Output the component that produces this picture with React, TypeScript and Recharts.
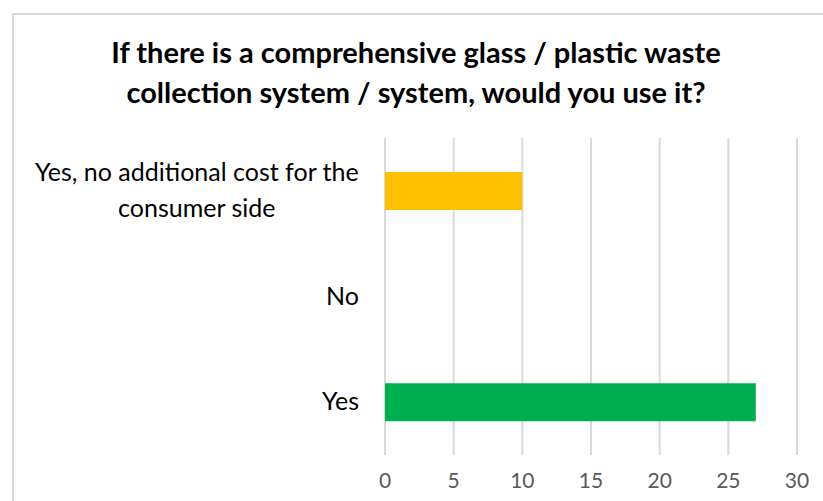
import { Bar, BarChart, CartesianGrid, Cell, XAxis, YAxis } from 'recharts'

const categories = ['Yes, no additional cost for the consumer side', 'No', 'Yes']
const counts = [10, 0, 27]
const barColors = ['#FFC000', '#00B050', '#00B050']
const xTicks = [0, 5, 10, 15, 20, 25, 30]
const titleLines = [
  'If there is a comprehensive glass / plastic waste',
  'collection system / system, would you use it?',
]

const data = categories.map((name, i) => ({ name, value: counts[i] }))

const labelSize = 25
const labelFont = `${labelSize}px Lato`

let ctx: CanvasRenderingContext2D | null = null
function measure(text: string) {
  if (!ctx) ctx = document.createElement('canvas').getContext('2d')
  if (!ctx) return text.length * 11
  ctx.font = labelFont
  return ctx.measureText(text).width
}

function wrap(text: string, maxWidth: number) {
  const words = text.split(' ')
  const lines: string[] = []
  let cur = ''
  for (const w of words) {
    const next = cur ? cur + ' ' + w : w
    if (cur && measure(next) > maxWidth) {
      lines.push(cur)
      cur = w
    } else {
      cur = next
    }
  }
  if (cur) lines.push(cur)
  return lines
}

function CategoryTick(props: any) {
  const { x, y, payload } = props
  const lines = wrap(String(payload.value), 340)
  const lineH = 36
  const right = x - 2
  if (lines.length === 1) {
    return (
      <text x={right} y={y} dy={8} textAnchor="end" fontSize={labelSize} fontFamily="Lato" fill="#000">
        {lines[0]}
      </text>
    )
  }
  const widest = Math.max(...lines.map(measure))
  const cx = right - widest / 2
  const startY = y - ((lines.length - 1) * lineH) / 2
  return (
    <text textAnchor="middle" fontSize={labelSize} fontFamily="Lato" fill="#000">
      {lines.map((l, i) => (
        <tspan key={i} x={cx} y={startY + i * lineH} dy={8}>
          {l}
        </tspan>
      ))}
    </text>
  )
}

export default function App() {
  return (
    <div style={{ position: 'absolute', left: 0, top: 0, width: 823, height: 501, background: '#fff', overflow: 'hidden' }}>
      <div
        style={{
          position: 'absolute',
          left: 12,
          top: 13,
          width: 830,
          height: 520,
          border: '2px solid #d9d9d9',
          boxSizing: 'border-box',
        }}
      />
      <div
        style={{
          position: 'absolute',
          left: 0,
          width: 832,
          top: 32,
          textAlign: 'center',
          fontFamily: 'Lato',
          fontWeight: 700,
          fontSize: 29,
          lineHeight: '40px',
          color: '#000',
        }}
      >
        {titleLines.map((t) => (
          <div key={t}>{t}</div>
        ))}
      </div>
      <div style={{ position: 'absolute', left: 0, top: 0 }}>
        <BarChart
          width={823}
          height={501}
          data={data}
          layout="vertical"
          margin={{ top: 138, right: 26, bottom: 0, left: 0 }}
        >
          <CartesianGrid horizontal={false} stroke="#d9d9d9" strokeWidth={2} />
          <XAxis
            type="number"
            domain={[0, 30]}
            ticks={xTicks}
            axisLine={false}
            tickLine={false}
            tick={{ fill: '#595959', fontSize: 21, fontFamily: 'Lato' }}
            tickMargin={12}
            interval={0}
            height={46}
          />
          <YAxis
            type="category"
            dataKey="name"
            width={385}
            axisLine={false}
            tickLine={false}
            tick={<CategoryTick />}
            tickMargin={18}
          />
          <Bar dataKey="value" barSize={38} isAnimationActive={false}>
            {data.map((d, i) => (
              <Cell key={d.name} fill={barColors[i]} />
            ))}
          </Bar>
        </BarChart>
      </div>
    </div>
  )
}
